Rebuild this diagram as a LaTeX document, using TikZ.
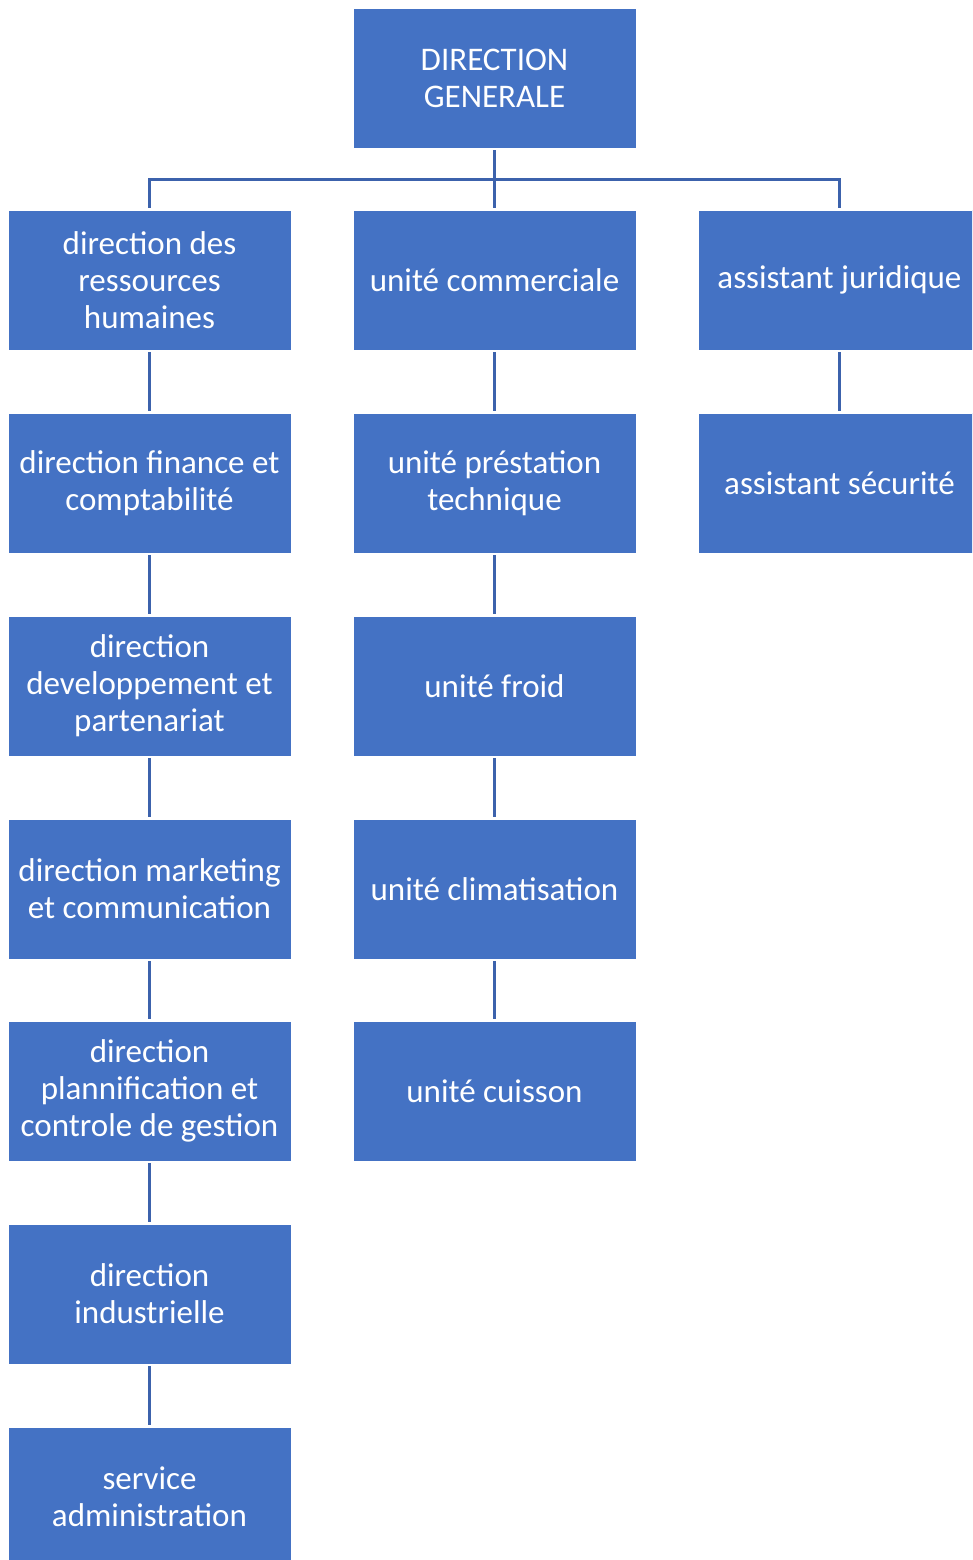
\documentclass[tikz,border=0pt]{standalone}
\usepackage{fontspec}
\setmainfont{Carlito}
\definecolor{boxblue}{HTML}{4472C4}
\definecolor{lineblue}{HTML}{3C62AC}
\begin{document}
\begin{tikzpicture}[x=1pt,y=-1pt,
  orgbox/.style={rectangle, fill=boxblue, draw=white, line width=0.8pt,
    minimum width=283pt, minimum height=140pt, inner sep=0pt,
    text=white, align=center, font=\fontsize{33}{37}\selectfont},
  conn/.style={draw=lineblue, line width=3pt, shorten <=2pt, shorten >=2pt}]
\clip (0,0) rectangle (972,1560);
\useasboundingbox (0,0) rectangle (972,1560);
\fill[white] (0,0) rectangle (972,1560);
% top
\node[orgbox] (dg) at (494.5,78) {DIRECTION\\GENERALE};
% left column
\node[orgbox] (l1) at (149.5,280) {direction des\\ressources\\humaines};
\node[orgbox] (l2) at (149.5,483) {direction finance et\\comptabilité};
\node[orgbox] (l3) at (149.5,686) {direction\\developpement et\\partenariat};
\node[orgbox] (l4) at (149.5,889) {direction marketing\\et communication};
\node[orgbox] (l5) at (149.5,1091) {direction\\plannification et\\controle de gestion};
\node[orgbox] (l6) at (149.5,1294) {direction\\industrielle};
\node[orgbox] (l7) at (149.5,1497) {service\\administration};
% centre column
\node[orgbox] (c1) at (494.5,280) {unité commerciale};
\node[orgbox] (c2) at (494.5,483) {unité préstation\\technique};
\node[orgbox] (c3) at (494.5,686) {unité froid};
\node[orgbox] (c4) at (494.5,889) {unité climatisation};
\node[orgbox] (c5) at (494.5,1091) {unité cuisson};
% right column
\node[orgbox] (r1) at (839.5,280) {assistant juridique};
\node[orgbox] (r2) at (839.5,483) {assistant sécurité};
% connectors
\coordinate (hub) at (494.5,179);
\draw[conn] (dg.south) -- (c1.north);
\draw[conn] (l1.north) |- (hub) -| (r1.north);
\foreach \a/\b in {l1/l2,l2/l3,l3/l4,l4/l5,l5/l6,l6/l7,c1/c2,c2/c3,c3/c4,c4/c5,r1/r2}
  \draw[conn] (\a.south) -- (\b.north);
\end{tikzpicture}
\end{document}
